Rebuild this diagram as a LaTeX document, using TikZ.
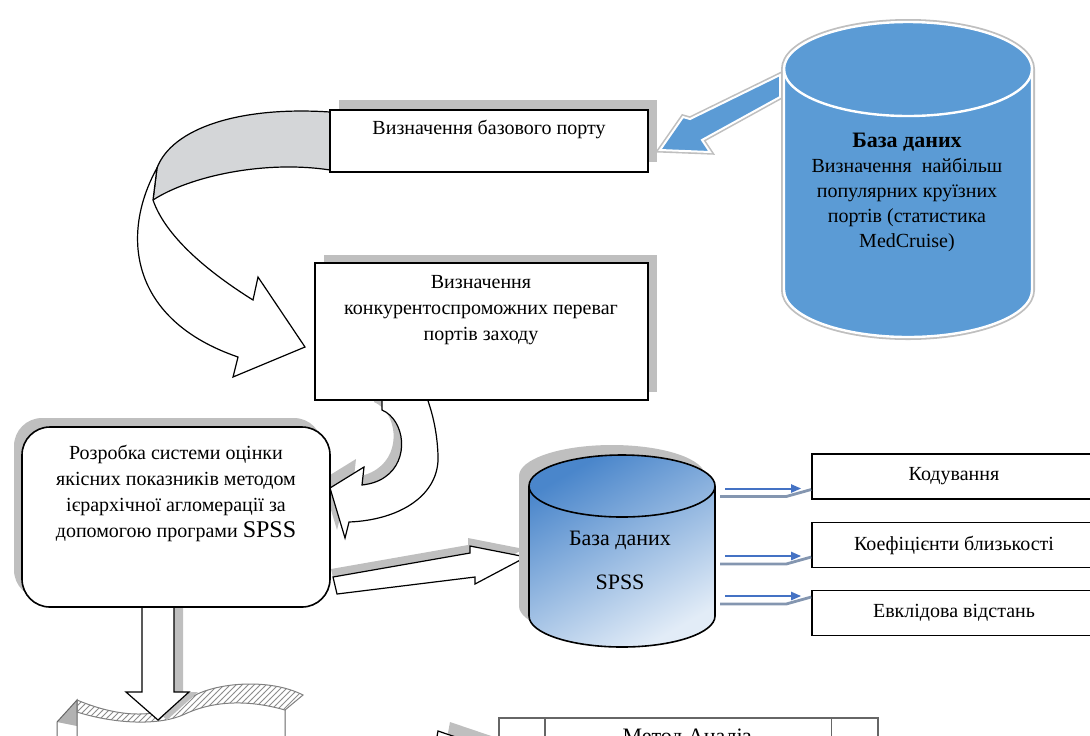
\documentclass[tikz,border=0pt]{standalone}
\usepackage{fontspec}
\setmainfont{Liberation Serif}
\usetikzlibrary{shadows,patterns,arrows.meta,calc}
\definecolor{dbblue}{RGB}{91,155,213}
\definecolor{dbdark}{RGB}{74,134,203}
\definecolor{dblight}{RGB}{226,236,247}
\definecolor{lineblue}{RGB}{68,114,196}
\definecolor{linegray}{RGB}{132,150,176}
\definecolor{bandgray}{RGB}{212,214,216}
\begin{document}
\begin{tikzpicture}[x=0.5pt,y=-0.5pt,
	box/.style={draw,line width=0.8pt,fill=white},
	boxshadow/.style 2 args={drop shadow={shadow xshift=#1,shadow yshift=#2,fill=black!25,opacity=1}},
	blockarrow/.style={fill=white,draw=black,line width=0.6pt},
	txt/.style={align=center,font=\fontsize{10}{13}\selectfont},
	bline/.style={draw=lineblue,line width=1pt,-{Triangle[length=5pt,width=4pt]}},
	gline/.style={draw=linegray,line width=1.4pt}]
	\clip (0,0) rectangle (1090,735);
	\filldraw [fill=dbblue,draw=white,line width=1pt,preaction={draw=black!25,line width=2.6pt}] (780,75) -- (690,119) -- (683,117) -- (660,150) -- (710,152) -- (702,140) -- (780,97) -- cycle;
	\filldraw [fill=dbblue,draw=white,line width=1.2pt,preaction={draw=black!25,line width=3pt}] (784,69) -- (784,290) arc[start angle=180,end angle=360,x radius=62pt,y radius=23.5pt] -- (1032,69) arc[start angle=0,end angle=180,x radius=62pt,y radius=23.5pt] -- cycle;
	\draw [white,line width=1.2pt] (784,69) arc[start angle=180,end angle=360,x radius=62pt,y radius=23.5pt];
	\node [align=center,font=\fontsize{10}{12.5}\selectfont] (dbtext) at (907,192) {{\fontsize{11}{12.5}\selectfont\bfseries База даних}\\Визначення\ \ найбільш\\популярних круїзних\\портів (статистика\\MedCruise)};
	\filldraw [fill=bandgray,line width=0.6pt] (330,112) .. controls (240,106) and (172,128) .. (157,168) -- (153,200) .. controls (190,176) and (265,160) .. (330,170) -- cycle;
	\filldraw [blockarrow] (157,168) .. controls (120,235) and (130,320) .. (238,357) -- (233,377) -- (305,347) -- (258,277) -- (253,300) .. controls (205,270) and (165,235) .. (153,200) -- cycle;
	\node [box,boxshadow={4.5pt}{5pt},minimum width=159pt,minimum height=31pt,label={[anchor=north,yshift=-5.5pt,inner sep=0pt]north:Визначення базового порту}] (base) at (489,141) {};
	\filldraw [blockarrow,boxshadow={-4pt}{4pt}] (382,398) -- (382,410) .. controls (405,420) and (410,460) .. (385,477) .. controls (378,482) and (370,484) .. (362,485) -- (364,467) -- (330,488) -- (345,538) -- (349,522) .. controls (400,520) and (440,495) .. (438,455) .. controls (437,430) and (432,412) .. (427,398) -- cycle;
	\node [box,boxshadow={4.5pt}{4pt},minimum width=166.5pt,minimum height=68.5pt] (adv) at (481.5,331.5) {};
	\node [txt] (advtext) at (481,310) {Визначення\\конкурентоспроможних переваг\\портів заходу};
	\filldraw [blockarrow,boxshadow={-1pt}{4pt}] (333,577) -- (470,553) -- (470,546) -- (526,557) -- (475,584) -- (475,577) -- (337,594) -- cycle;
	\fill [black!30] (57,722) -- (77,700) -- (77,726) -- cycle;
	\draw [black!60,line width=0.5pt] (57,722) -- (77,700) -- (77,745) (57,722) -- (57,745) (285,710) -- (285,745);
	\draw [black!50,line width=0.5pt,pattern=north east lines,pattern color=black!45] (77,700) .. controls (120,718) and (160,720) .. (190,698) .. controls (215,682) and (270,678) .. (303,695) -- (285,710) .. controls (250,700) and (215,700) .. (185,714) .. controls (160,726) and (115,724) .. (77,712) -- cycle;
	\filldraw [blockarrow,boxshadow={4.5pt}{0pt}] (142,605) -- (142,692) -- (126,692) -- (158,720) -- (189,692) -- (174,692) -- (174,605) -- cycle;
	\node [box,rounded corners=14pt,boxshadow={-4pt}{4.5pt},minimum width=154pt,minimum height=90pt] (rating) at (176,517) {};
	\node [txt] (ratingtext) at (176,493) {Розробка системи оцінки\\якісних показників методом\\ієрархічної агломерації за\\допомогою програми {\fontsize{12}{13}\selectfont SPSS}};
	\path [draw,line width=0.8pt,top color=dbdark,bottom color=dblight,shading angle=30,boxshadow={-5pt}{5pt}] (529,486) -- (529,616) arc[start angle=180,end angle=360,x radius=46.5pt,y radius=15.5pt] -- (715,486) arc[start angle=0,end angle=180,x radius=46.5pt,y radius=15.5pt] -- cycle;
	\draw [line width=0.8pt] (529,486) arc[start angle=180,end angle=360,x radius=46.5pt,y radius=15.5pt];
	\coordinate (spss) at (715,551);
	\node [align=center,font=\fontsize{11}{22}\selectfont] (spsstext) at (620,560) {База даних\\SPSS};
	\node [box,minimum width=142pt,minimum height=22.5pt,txt] (kod) at (954,476.5) {Кодування};
	\node [box,minimum width=142pt,minimum height=22.5pt,txt] (koef) at (954,545) {Коефіцієнти близькості};
	\node [box,minimum width=142pt,minimum height=22.5pt,txt] (evkl) at (954,613) {Евклідова відстань};
	\foreach \b/\dy in {kod/-6pt,koef/-5.5pt,evkl/8.5pt}{
		\draw [bline] ($(spss |- \b.west)+(5pt,\dy)$) -- ([xshift=-5pt,yshift=\dy]\b.west);
		\draw [gline] ($(spss |- \b.west)+(2.5pt,\dy-4pt)$) -- ([xshift=-12.5pt,yshift=\dy-4pt]\b.west) -- ([yshift=\dy-0.5pt]\b.west);
	}
	\filldraw [blockarrow,boxshadow={6pt}{4.5pt}] (438,731) -- (500,752) -- (430,775) -- cycle;
	\node [draw=black!60,line width=0.8pt,fill=white,minimum width=189.5pt,minimum height=30pt,anchor=north west] (method) at (498,717) {};
	\draw [black!60,line width=0.8pt] ([xshift=23.5pt]method.north west) -- ([xshift=23.5pt]method.south west) ([xshift=-23.5pt]method.north east) -- ([xshift=-23.5pt]method.south east);
	\node [anchor=base,font=\fontsize{11}{13}\selectfont] (methodtext) at (687,743) {Метод Аналіз};
\end{tikzpicture}
\end{document}
